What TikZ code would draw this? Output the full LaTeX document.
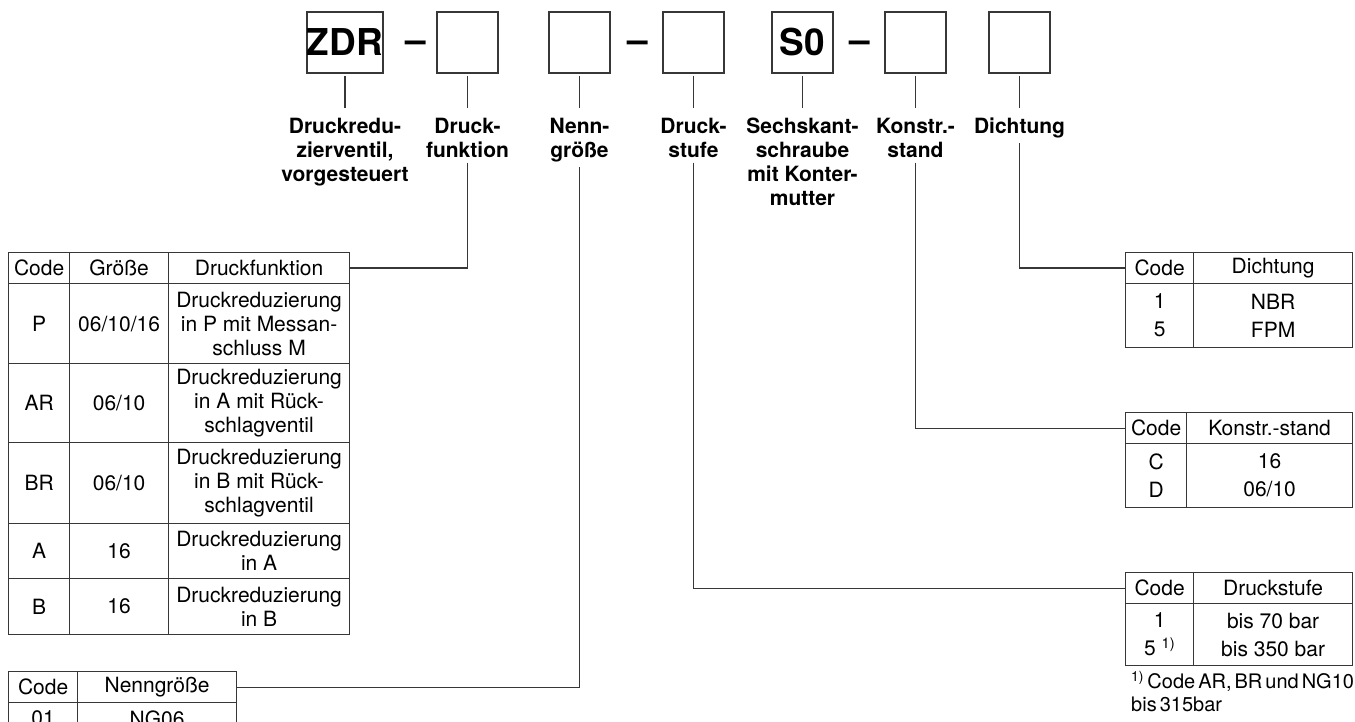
\documentclass[tikz,border=0pt]{standalone}
\usepackage{fontspec}
\setmainfont{TeX Gyre Heros}
\usetikzlibrary{positioning}
\definecolor{linegray}{RGB}{55,55,55}
\newcommand{\tabfont}{\fontsize{21}{24}\selectfont}
\newcommand{\rowfont}{\fontsize{21}{28}\selectfont}
\newcommand{\lblfont}{\bfseries\fontsize{21}{24}\selectfont}
\newcommand{\codefont}{\bfseries\fontsize{37}{37}\selectfont}
\newcommand{\notefont}{\fontsize{20}{23}\selectfont\spaceskip=3pt plus 1pt\relax}
\tikzset{
  codebox/.style={rectangle, draw=linegray, line width=1.3pt, minimum width=#1,
                  minimum height=61pt, inner sep=0pt, font=\codefont},
  codebox/.default=61pt,
  codelabel/.style={below=44pt of #1, inner sep=0pt, align=center, font=\lblfont},
  codedash/.style={anchor=base, inner sep=0pt, font=\codefont},
  cell/.style 2 args={rectangle, draw=linegray, line width=1.2pt, anchor=north west,
                      inner sep=0pt, align=center, minimum width=#1, minimum height=#2,
                      font=\tabfont},
  link/.style={draw=linegray, line width=1.2pt},
}

\begin{document}
\begin{tikzpicture}[x=1pt, y=-1pt]
  \useasboundingbox (0,0) rectangle (1355,722);
  \clip (0,0) rectangle (1355,722);

  % type code boxes
  \node[codebox=76pt] (zdr) at (345,42.5) {ZDR};
  \node[codebox] (fun) at (467.5,42.5) {};
  \node[codebox] (nenn) at (579.5,42.5) {};
  \node[codebox] (stufe) at (693.5,42.5) {};
  \node[codebox] (sechs) at (802.5,42.5) {S0};
  \node[codebox] (kon) at (915.5,42.5) {};
  \node[codebox] (dicht) at (1019.5,42.5) {};
  \node[codedash] (dash1) at (416,53) {\textendash};
  \node[codedash] (dash2) at (637.5,53) {\textendash};
  \node[codedash] (dash3) at (859.5,53) {\textendash};

  % labels below the boxes
  \node[codelabel=zdr] (lzdr) {Druckredu-\\zierventil,\\vorgesteuert};
  \node[codelabel=fun] (lfun) {Druck-\\funktion};
  \node[codelabel=nenn] (lnenn) {Nenn-\\größe};
  \node[codelabel=stufe] (lstufe) {Druck-\\stufe};
  \node[codelabel=sechs] (lsechs) {Sechskant-\\schraube\\mit Konter-\\mutter};
  \node[codelabel=kon] (lkon) {Konstr.-\\stand};
  \node[codelabel=dicht] (ldicht) {Dichtung};
  \draw[link, shorten <=2pt, shorten >=10pt] (zdr) -- (lzdr);
  \draw[link, shorten <=2pt, shorten >=10pt] (fun) -- (lfun);
  \draw[link, shorten <=2pt, shorten >=10pt] (nenn) -- (lnenn);
  \draw[link, shorten <=2pt, shorten >=10pt] (stufe) -- (lstufe);
  \draw[link, shorten <=2pt, shorten >=10pt] (sechs) -- (lsechs);
  \draw[link, shorten <=2pt, shorten >=10pt] (kon) -- (lkon);
  \draw[link, shorten <=2pt, shorten >=10pt] (dicht) -- (ldicht);

  % Druckfunktion table
  \node[cell={61pt}{31pt}] (fH1) at (8,252) {Code};
  \node[cell={99pt}{31pt}] (fH2) at (69,252) {Größe};
  \node[cell={181pt}{31pt}] (fH3) at (168,252) {Druckfunktion};
  \node[cell={61pt}{80pt}] (fP1) at (8,283) {P};
  \node[cell={99pt}{80pt}] (fP2) at (69,283) {06/10/16};
  \node[cell={181pt}{80pt}] (fP3) at (168,283) {Druckreduzierung\\in P mit Messan-\\schluss M};
  \node[cell={61pt}{79pt}] (fAR1) at (8,363) {AR};
  \node[cell={99pt}{79pt}] (fAR2) at (69,363) {06/10};
  \node[cell={181pt}{79pt}] (fAR3) at (168,363) {Druckreduzierung\\in A mit Rück-\\schlagventil};
  \node[cell={61pt}{81pt}] (fBR1) at (8,442) {BR};
  \node[cell={99pt}{81pt}] (fBR2) at (69,442) {06/10};
  \node[cell={181pt}{81pt}] (fBR3) at (168,442) {Druckreduzierung\\in B mit Rück-\\schlagventil};
  \node[cell={61pt}{55pt}] (fA1) at (8,523) {A};
  \node[cell={99pt}{55pt}] (fA2) at (69,523) {16};
  \node[cell={181pt}{55pt}] (fA3) at (168,523) {Druckreduzierung\\in A};
  \node[cell={61pt}{56pt}] (fB1) at (8,578) {B};
  \node[cell={99pt}{56pt}] (fB2) at (69,578) {16};
  \node[cell={181pt}{56pt}] (fB3) at (168,578) {Druckreduzierung\\in B};

  % Nenngroesse table (cut by the page edge)
  \node[cell={69pt}{31pt}] (nH1) at (8,671) {Code};
  \node[cell={159pt}{31pt}] (nH2) at (77,671) {Nenngröße};
  \node[cell={69pt}{32pt}] (n11) at (8,702) {01};
  \node[cell={159pt}{32pt}] (n12) at (77,702) {NG06};

  % Dichtung table
  \node[cell={68pt}{31pt}] (dH1) at (1125,252) {Code};
  \node[cell={159pt}{31pt}] (dH2) at (1193,252) {Dichtung};
  \node[cell={68pt}{64pt}, font=\rowfont] (d1) at (1125,283) {1\\5};
  \node[cell={159pt}{64pt}, font=\rowfont] (d2) at (1193,283) {NBR\\FPM};

  % Konstr.-stand table
  \node[cell={61pt}{31pt}] (kH1) at (1125,412) {Code};
  \node[cell={166pt}{31pt}] (kH2) at (1186,412) {Konstr.-stand};
  \node[cell={61pt}{64pt}, font=\rowfont] (k1) at (1125,443) {C\\D};
  \node[cell={166pt}{64pt}, font=\rowfont] (k2) at (1186,443) {16\\06/10};

  % Druckstufe table
  \node[cell={68pt}{31pt}] (sH1) at (1125,572) {Code};
  \node[cell={159pt}{31pt}] (sH2) at (1193,572) {Druckstufe};
  \node[cell={68pt}{62pt}, font=\rowfont] (s1) at (1125,603) {1\\5 \textsuperscript{1)}};
  \node[cell={159pt}{62pt}, font=\rowfont] (s2) at (1193,603) {bis 70 bar\\bis 350 bar};
  \node[anchor=north west, align=left, inner sep=0pt, font=\notefont] (fnote) at (1131,671)
        {\textsuperscript{1)}\,Code AR, BR und NG10\\bis 315bar};

  % connectors to the tables
  \draw[link, shorten <=5pt] (lfun) |- (fH3.east);
  \draw[link, shorten <=5pt] (lnenn) |- (nH2.east);
  \draw[link, shorten <=5pt] (lstufe) |- (sH1.west);
  \draw[link, shorten <=5pt] (lkon) |- (kH1.west);
  \draw[link, shorten <=5pt] (ldicht) |- (dH1.west);
\end{tikzpicture}
\end{document}
